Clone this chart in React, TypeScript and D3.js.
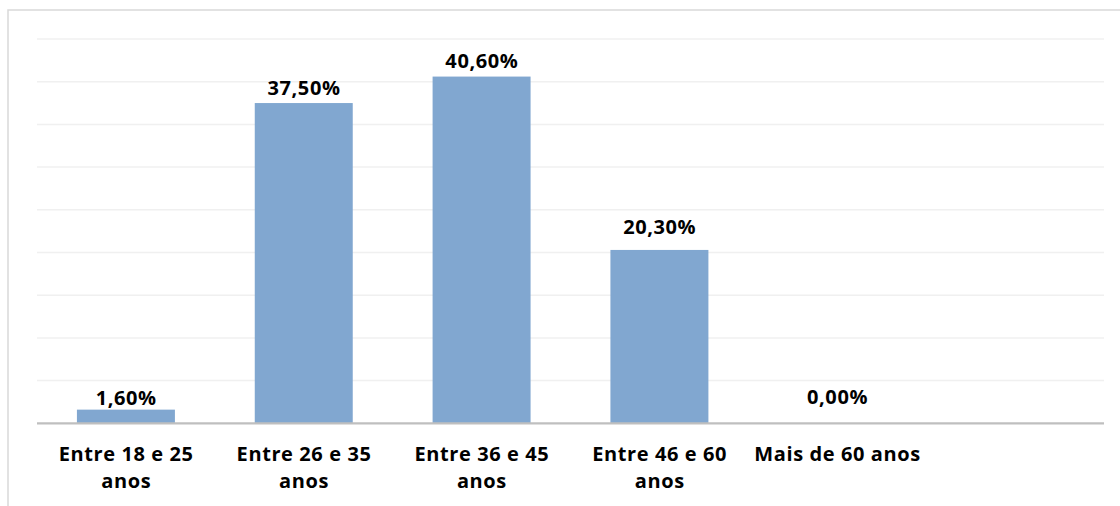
import React, { useEffect, useRef } from "react";
import * as d3 from "d3";

const categories = [
  "Entre 18 e 25 anos",
  "Entre 26 e 35 anos",
  "Entre 36 e 45 anos",
  "Entre 46 e 60 anos",
  "Mais de 60 anos",
  "",
];
const values = [1.6, 37.5, 40.6, 20.3, 0.0, null];
const valueLabels = ["1,60%", "37,50%", "40,60%", "20,30%", "0,00%", ""];
const gridTicks = [0, 5, 10, 15, 20, 25, 30, 35, 40, 45];
// label gap above the bar top (px), as placed in the original chart
const labelGap = [5, 8, 9, 16, 19, 0];

const W = 1120;
const H = 506;
const FONT = "'Open Sans', sans-serif";
const FS = 20;
const LS = 0.6;

export default function App() {
  const ref = useRef<SVGSVGElement>(null);

  useEffect(() => {
    const svg = d3.select(ref.current);
    svg.selectAll("*").remove();

    const left = 37, right = 1104, top = 39, bottom = 423.3;
    const x = d3.scaleBand<string>().domain(categories.map((c, i) => String(i))).range([left, right]).paddingInner(0.449).paddingOuter(0.2245);
    const y = d3.scaleLinear().domain([0, 45]).range([bottom, top]);

    svg.append("rect").attr("x", 0).attr("y", 0).attr("width", W).attr("height", H).attr("fill", "#fff");
    // frame
    svg.append("rect").attr("x", 8).attr("y", 10).attr("width", W).attr("height", H)
      .attr("fill", "none").attr("stroke", "#d9d9d9").attr("stroke-width", 1.5);

    svg.append("g").selectAll("line").data(gridTicks.slice(1)).join("line")
      .attr("x1", left).attr("x2", right)
      .attr("y1", (d) => y(d)).attr("y2", (d) => y(d))
      .attr("stroke", "#f0f0f0").attr("stroke-width", 1.5);

    const idx = d3.range(categories.length);
    svg.append("g").selectAll("rect").data(idx.filter((i) => values[i] !== null && (values[i] as number) > 0)).join("rect")
      .attr("x", (i) => x(String(i))!)
      .attr("width", x.bandwidth())
      .attr("y", (i) => y(values[i] as number))
      .attr("height", (i) => bottom - y(values[i] as number))
      .attr("fill", "#81a7d0");

    svg.append("line").attr("x1", left).attr("x2", right).attr("y1", bottom).attr("y2", bottom)
      .attr("stroke", "#bfbfbf").attr("stroke-width", 2.2);

    svg.append("g").selectAll("text").data(idx.filter((i) => values[i] !== null)).join("text")
      .attr("x", (i) => x(String(i))! + x.bandwidth() / 2 + LS / 2)
      .attr("y", (i) => y(values[i] as number) - labelGap[i])
      .attr("text-anchor", "middle")
      .attr("font-family", FONT).attr("font-weight", 700).attr("font-size", FS)
      .attr("letter-spacing", LS)
      .attr("fill", "#000")
      .text((i) => valueLabels[i]);

    // category labels with wrapping
    const maxW = x.step() - 5;
    idx.forEach((i) => {
      const label = categories[i];
      if (!label) return;
      const t = svg.append("text")
        .attr("text-anchor", "middle")
        .attr("font-family", FONT).attr("font-weight", 700).attr("font-size", FS)
        .attr("letter-spacing", LS)
        .attr("fill", "#000");
      const cx = x(String(i))! + x.bandwidth() / 2 + LS / 2;
      const words = label.split(" ");
      const lines: string[] = [];
      let cur: string[] = [];
      const probe = t.append("tspan");
      for (const w of words) {
        const test = [...cur, w].join(" ");
        probe.text(test);
        if ((probe.node() as SVGTextContentElement).getComputedTextLength() > maxW && cur.length) {
          lines.push(cur.join(" "));
          cur = [w];
        } else cur.push(w);
      }
      lines.push(cur.join(" "));
      probe.remove();
      lines.forEach((ln, k) => {
        t.append("tspan").attr("x", cx).attr("y", 460.7 + k * 27).text(ln);
      });
    });
  }, []);

  return (
    <svg ref={ref} width={W} height={H} style={{ position: "absolute", left: 0, top: 0, display: "block" }} />
  );
}
